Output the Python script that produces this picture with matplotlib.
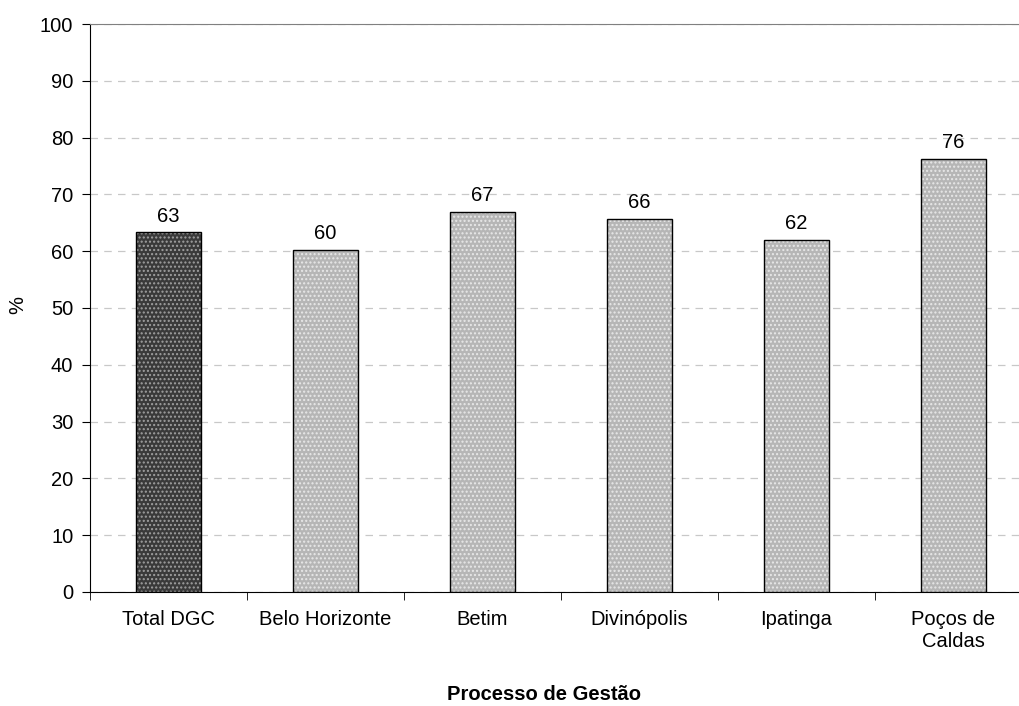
import matplotlib.pyplot as plt
import numpy as np

plt.rcParams['font.family'] = ['Liberation Sans', 'DejaVu Sans']
plt.rcParams['hatch.linewidth'] = 1.0

cidades = ['Total DGC', 'Belo Horizonte', 'Betim', 'Divinópolis', 'Ipatinga', 'Poços de\nCaldas']
percentual = [63.3, 60.2, 66.9, 65.7, 62.0, 76.3]
cores = ['#3a3a3a', '#b6b6b6', '#b6b6b6', '#b6b6b6', '#b6b6b6', '#b6b6b6']
pontos = ['#a0a0a0', '#e8e8e8', '#e8e8e8', '#e8e8e8', '#e8e8e8', '#e8e8e8']
yticks = list(range(0, 101, 10))

fig = plt.figure(figsize=(10.19, 7.06), dpi=100)
ax = fig.add_axes([0.0883, 0.1615, 0.9245, 0.8045])

x = np.arange(len(cidades))
largura = 0.41

# fill with dotted texture, then outline on top
for xi, v, c, p in zip(x, percentual, cores, pontos):
    ax.bar(xi, v, largura, color=c, hatch='....', edgecolor=p, linewidth=0, zorder=2)
ax.bar(x, percentual, largura, fill=False, edgecolor='black', linewidth=1.0, zorder=3)

for xi, v in zip(x, percentual):
    ax.annotate(f'{v:.0f}', (xi, v), xytext=(0, 5), textcoords='offset points',
                ha='center', va='bottom', fontsize=14.5)

ax.set_xlim(-0.5, len(cidades) - 0.5)
ax.set_ylim(0, 100)
ax.set_yticks(yticks)
ax.tick_params(axis='y', labelsize=14.5, length=6, direction='out', pad=6)
ax.yaxis.grid(True, linestyle=(0, (6, 5)), color='#c8c8c8', linewidth=0.9, zorder=0)
ax.set_axisbelow(True)

ax.set_xticks(x)
ax.set_xticklabels(cidades, fontsize=14.5)
ax.set_xticks(np.arange(len(cidades) + 1) - 0.5, minor=True)
ax.tick_params(axis='x', which='major', length=0, pad=13)
ax.tick_params(axis='x', which='minor', length=6, direction='out')

ax.spines['top'].set_color('#808080')
ax.spines['right'].set_visible(False)
ax.spines['left'].set_color('black')
ax.spines['bottom'].set_color('black')

fig.text(18 / 1019, 1 - 305 / 706, '%', fontsize=14.5, rotation=90, ha='center', va='center')
fig.text(544 / 1019, 1 - 695 / 706, 'Processo de Gestão', fontsize=14.5, fontweight='bold',
         ha='center', va='center')

fig.savefig('out.png', dpi=100)
